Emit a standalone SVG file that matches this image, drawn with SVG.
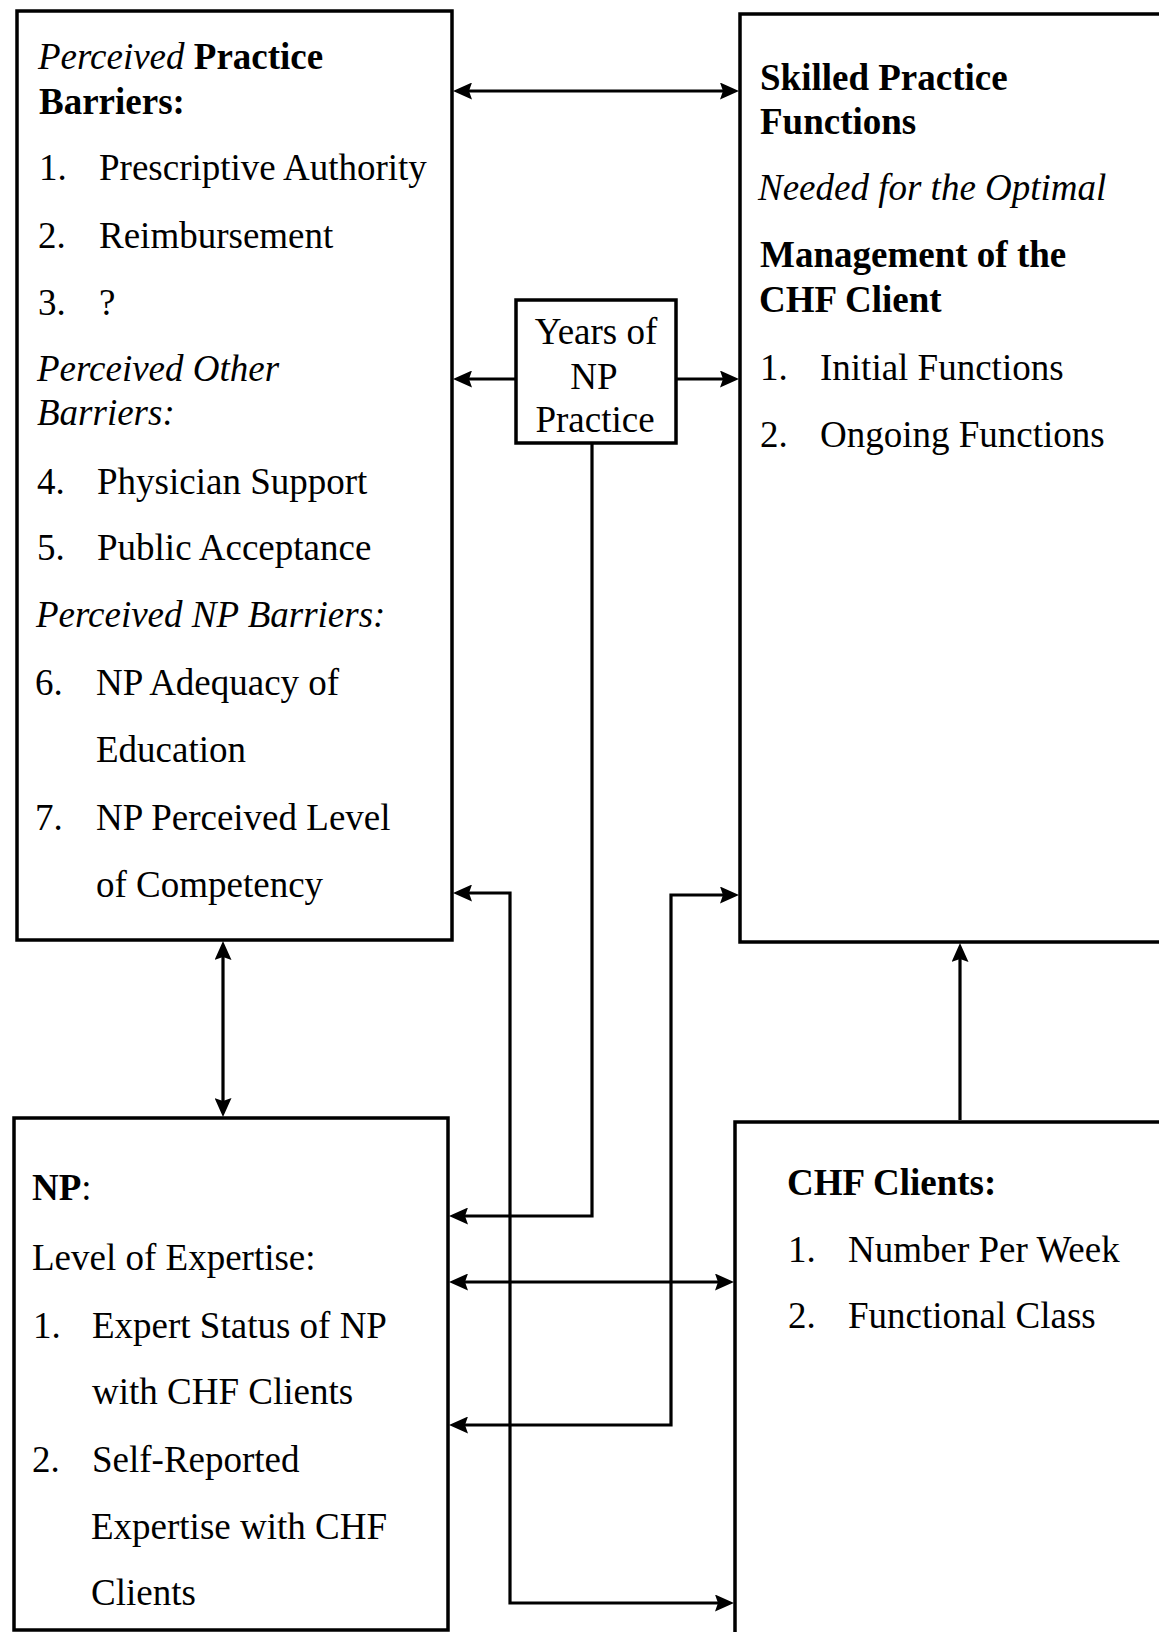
<svg xmlns="http://www.w3.org/2000/svg" width="1159" height="1632" viewBox="0 0 1159 1632">
<style>
.box{fill:#fff;stroke:#000;stroke-width:3.5}
.t{font-family:"Liberation Serif","Times New Roman",serif;font-size:37px;fill:#000}
.b{font-weight:bold}
.i{font-style:italic}
.c{fill:none;stroke:#000;stroke-width:3.2;marker-end:url(#ah)}
.d{marker-start:url(#ah)}
</style>
<defs>
<marker id="ah" markerUnits="userSpaceOnUse" markerWidth="19" markerHeight="17" viewBox="0 0 19 17" refX="14" refY="8.5" orient="auto-start-reverse">
<path d="M0,0 L19,8.5 L0,17 L3,8.5 z" fill="#000"/>
</marker>
</defs>
<rect width="1159" height="1632" fill="#fff"/>

<g id="practice-barriers">
<rect class="box" x="17" y="11" width="435" height="929"/>
<text class="t" x="38" y="69"><tspan class="i">Perceived</tspan><tspan class="b"> Practice</tspan></text>
<text class="t b" x="39" y="114">Barriers:</text>
<text class="t" x="39" y="180">1.</text><text class="t" x="99" y="180">Prescriptive Authority</text>
<text class="t" x="38" y="248">2.</text><text class="t" x="99" y="248">Reimbursement</text>
<text class="t" x="38" y="315">3.</text><text class="t" x="99" y="315">?</text>
<text class="t i" x="37" y="381">Perceived Other</text>
<text class="t i" x="37" y="425">Barriers:</text>
<text class="t" x="37" y="494">4.</text><text class="t" x="97" y="494">Physician Support</text>
<text class="t" x="37" y="560">5.</text><text class="t" x="97" y="560">Public Acceptance</text>
<text class="t i" x="36" y="627">Perceived NP Barriers:</text>
<text class="t" x="35" y="695">6.</text><text class="t" x="96" y="695">NP Adequacy of</text>
<text class="t" x="96" y="762">Education</text>
<text class="t" x="35" y="830">7.</text><text class="t" x="96" y="830">NP Perceived Level</text>
<text class="t" x="96" y="897">of Competency</text>
</g>

<g id="skilled-functions">
<rect class="box" x="740" y="14" width="460" height="928"/>
<text class="t b" x="760" y="90">Skilled Practice</text>
<text class="t b" x="760" y="134">Functions</text>
<text class="t i" x="758" y="200">Needed for the Optimal</text>
<text class="t b" x="760" y="267">Management of the</text>
<text class="t b" x="759" y="312">CHF Client</text>
<text class="t" x="760" y="380">1.</text><text class="t" x="820" y="380">Initial Functions</text>
<text class="t" x="760" y="447">2.</text><text class="t" x="820" y="447">Ongoing Functions</text>
</g>

<g id="years">
<rect class="box" x="516" y="300" width="160" height="143"/>
<text class="t" x="596" y="344" text-anchor="middle">Years of</text>
<text class="t" x="594" y="389" text-anchor="middle">NP</text>
<text class="t" x="595" y="432" text-anchor="middle">Practice</text>
</g>

<g id="np">
<rect class="box" x="14" y="1118" width="434" height="512"/>
<text class="t" x="32" y="1200"><tspan class="b">NP</tspan>:</text>
<text class="t" x="32" y="1270">Level of Expertise:</text>
<text class="t" x="33" y="1338">1.</text><text class="t" x="92" y="1338">Expert Status of NP</text>
<text class="t" x="92" y="1404">with CHF Clients</text>
<text class="t" x="32" y="1472">2.</text><text class="t" x="92" y="1472">Self-Reported</text>
<text class="t" x="91" y="1539">Expertise with CHF</text>
<text class="t" x="91" y="1605">Clients</text>
</g>

<g id="chf-clients">
<rect class="box" x="735" y="1122" width="460" height="520"/>
<text class="t b" x="787" y="1195">CHF Clients:</text>
<text class="t" x="788" y="1262">1.</text><text class="t" x="848" y="1262">Number Per Week</text>
<text class="t" x="788" y="1328">2.</text><text class="t" x="848" y="1328">Functional Class</text>
</g>

<g id="connectors">
<path class="c d" d="M458,91 H734"/>
<path class="c" d="M516,379 H458"/>
<path class="c" d="M676,379 H734"/>
<path class="c" d="M592,443 V1216 H454"/>
<path class="c d" d="M223,946 V1112"/>
<path class="c d" d="M458,893 H510 V1603 H729"/>
<path class="c d" d="M454,1425 H671 V895 H734"/>
<path class="c d" d="M454,1282 H729"/>
<path class="c" d="M960,1120 V948"/>
</g>
</svg>
